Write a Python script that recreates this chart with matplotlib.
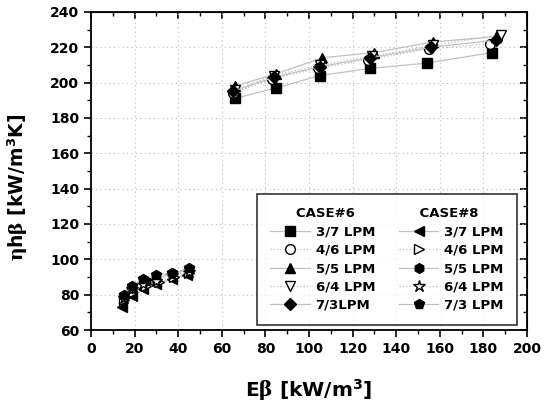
import matplotlib
matplotlib.use('Agg')
import matplotlib.pyplot as plt

plt.rcParams['font.family'] = ['DejaVu Sans']
plt.rcParams['font.weight'] = 'bold'
plt.rcParams['mathtext.fontset'] = 'custom'
plt.rcParams['mathtext.rm'] = 'DejaVu Serif'
plt.rcParams['mathtext.it'] = 'DejaVu Serif:italic'
plt.rcParams['mathtext.bf'] = 'DejaVu Sans:bold'

# CASE#6 (upper group)
c6_labels = ['3/7 LPM', '4/6 LPM', '5/5 LPM', '6/4 LPM', '7/3LPM']
c6_x = [[66, 85, 105, 128, 154, 184],
        [65, 83, 104, 127, 155, 183],
        [66, 85, 106, 130, 157, 186],
        [66, 84, 105, 129, 157, 188],
        [65, 84, 105, 128, 156, 186]]
c6_y = [[191, 197, 204, 208, 211, 217],
        [194, 202, 208, 213, 219, 222],
        [198, 205, 214, 217, 223, 226],
        [196, 204, 210, 215, 221, 227],
        [195, 203, 209, 214, 220, 224]]

# CASE#8 (lower group)
c8_labels = ['3/7 LPM', '4/6 LPM', '5/5 LPM', '6/4 LPM', '7/3 LPM']
c8_x = [[14, 19, 24, 30, 37, 44],
        [15, 19, 25, 31, 38, 45],
        [15, 19, 25, 30, 37, 45],
        [15, 19, 24, 30, 37, 45],
        [15, 19, 24, 30, 37, 45]]
c8_y = [[73, 79, 83, 86, 89, 91],
        [77, 81, 85, 87, 90, 92],
        [79, 84, 88, 89, 92, 94],
        [78, 83, 86, 88, 91, 93],
        [80, 85, 89, 91, 92, 95]]

c6_style = [('s', 'k', '-'), ('o', 'w', ':'), ('^', 'k', '-'), ('v', 'w', ':'), ('D', 'k', '-')]
c8_style = [('<', 'k', '-'), ('>', 'w', ':'), ('h', 'k', '-'), ('*', 'w', ':'), ('p', 'k', '-')]

fig = plt.figure(figsize=(5.45, 4.09), dpi=100)
ax = fig.add_axes([0.167, 0.193, 0.800, 0.778])

handles = []
labels = []
for xs, ys, lab, (m, fc, ls) in zip(c6_x, c6_y, c6_labels, c6_style):
    ms = 7 if m != 'D' else 6
    h, = ax.plot(xs, ys, marker=m, mfc=fc, mec='k', ms=ms, color='#c0c0c0',
                 lw=0.9, ls=ls, label=lab)
    handles.append(h)
    labels.append(lab)
for xs, ys, lab, (m, fc, ls) in zip(c8_x, c8_y, c8_labels, c8_style):
    ms = 9 if m == '*' else 7
    h, = ax.plot(xs, ys, marker=m, mfc=fc, mec='k', ms=ms, color='#c0c0c0',
                 lw=0.9, ls=ls, label=lab)
    handles.append(h)
    labels.append(lab)

ax.set_xlim(0, 200)
ax.set_ylim(60, 240)
ax.set_xticks(range(0, 201, 20))
ax.set_xticks(range(0, 201, 10), minor=True)
ax.set_yticks(range(60, 241, 20))
ax.set_yticks(range(60, 241, 10), minor=True)
ax.grid(True, which='major', ls=(0, (1, 3)), color='#bbbbbb', lw=0.8)
ax.tick_params(which='major', labelsize=10, length=5, width=1.2, direction='out')
ax.tick_params(which='minor', length=3, width=1.0, direction='out')
for sp in ax.spines.values():
    sp.set_linewidth(1.3)

# inward ticks on the right and top
sr = ax.secondary_yaxis('right')
sr.set_yticks(range(60, 241, 20), labels=[])
sr.set_yticks(range(60, 241, 10), minor=True)
sr.tick_params(which='major', length=5, width=1.2, direction='in')
sr.tick_params(which='minor', length=3, width=1.0, direction='in')
st = ax.secondary_xaxis('top')
st.set_xticks(range(0, 201, 20), labels=[])
st.set_xticks(range(0, 201, 10), minor=True)
st.tick_params(which='major', length=5, width=1.2, direction='in')
st.tick_params(which='minor', length=3, width=1.0, direction='in')

ax.set_xlabel(r'E$\mathrm{\beta}$ [kW/m$^{\mathbf{3}}$]', fontsize=14.5, fontweight='bold', labelpad=15)
ax.set_ylabel(r'$\mathrm{\eta}$h$\mathrm{\beta}$ [kW/m$^{\mathbf{3}}$K]', fontsize=13.5, fontweight='bold')
ax.yaxis.set_label_coords(-0.139, 0.45)

leg = ax.legend(handles, labels, ncol=2, loc='lower right', bbox_to_anchor=(0.977, 0.016),
                borderaxespad=0, fontsize=9.5, frameon=True, fancybox=False, edgecolor='k',
                title='CASE#6' + ' ' * 14 + 'CASE#8',
                title_fontproperties={'weight': 'bold', 'size': 9.5},
                handlelength=3.0, handletextpad=0.45, columnspacing=1.8,
                labelspacing=0.4, borderpad=1.0)
leg.get_frame().set_linewidth(1.2)

fig.savefig('out.png', dpi=100)
